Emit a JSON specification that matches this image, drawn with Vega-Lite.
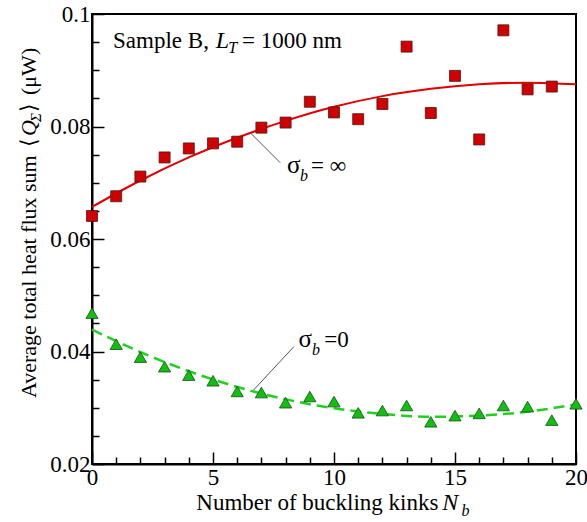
{
  "$schema": "https://vega.github.io/schema/vega-lite/v6.json",
  "width": 484,
  "height": 450,
  "autosize": "none",
  "padding": {"left": 92, "top": 14, "right": 11, "bottom": 58},
  "background": "white",
  "config": {"view": {"stroke": "black", "strokeWidth": 2}, "font": "'Liberation Serif', 'DejaVu Serif'"},
  "datasets": {
    "red": [
      {"n": 0, "q": 0.0641}, {"n": 1, "q": 0.0676}, {"n": 2, "q": 0.0711}, {"n": 3, "q": 0.0745},
      {"n": 4, "q": 0.0761}, {"n": 5, "q": 0.0770}, {"n": 6, "q": 0.0773}, {"n": 7, "q": 0.0798},
      {"n": 8, "q": 0.0807}, {"n": 9, "q": 0.0844}, {"n": 10, "q": 0.0825}, {"n": 11, "q": 0.0813},
      {"n": 12, "q": 0.0840}, {"n": 13, "q": 0.0942}, {"n": 14, "q": 0.0824}, {"n": 15, "q": 0.0890},
      {"n": 16, "q": 0.0777}, {"n": 17, "q": 0.0971}, {"n": 18, "q": 0.0866}, {"n": 19, "q": 0.0871}
    ],
    "green": [
      {"n": 0, "q": 0.0468}, {"n": 1, "q": 0.0413}, {"n": 2, "q": 0.0390}, {"n": 3, "q": 0.0373},
      {"n": 4, "q": 0.0358}, {"n": 5, "q": 0.0348}, {"n": 6, "q": 0.0329}, {"n": 7, "q": 0.0327},
      {"n": 8, "q": 0.0309}, {"n": 9, "q": 0.0320}, {"n": 10, "q": 0.0311}, {"n": 11, "q": 0.0291},
      {"n": 12, "q": 0.0295}, {"n": 13, "q": 0.0304}, {"n": 14, "q": 0.0275}, {"n": 15, "q": 0.0286},
      {"n": 16, "q": 0.0290}, {"n": 17, "q": 0.0304}, {"n": 18, "q": 0.0302}, {"n": 19, "q": 0.0278},
      {"n": 20, "q": 0.0307}
    ],
    "fitRed": [
      {"n": 0, "q": 0.0657}, {"n": 2, "q": 0.0704}, {"n": 4, "q": 0.0745}, {"n": 6, "q": 0.0780},
      {"n": 8, "q": 0.0810}, {"n": 10, "q": 0.0835}, {"n": 12, "q": 0.0854}, {"n": 14, "q": 0.0867},
      {"n": 16, "q": 0.0875}, {"n": 18, "q": 0.0878}, {"n": 20, "q": 0.0875}
    ],
    "fitGreen": [
      {"n": 0, "q": 0.0439}, {"n": 2, "q": 0.0399}, {"n": 4, "q": 0.0365}, {"n": 6, "q": 0.0337},
      {"n": 8, "q": 0.0315}, {"n": 10, "q": 0.0299}, {"n": 12, "q": 0.0289}, {"n": 14, "q": 0.0284},
      {"n": 16, "q": 0.0286}, {"n": 18, "q": 0.0293}, {"n": 20, "q": 0.0306}
    ],
    "leaders": [
      {"n": 6.54, "q": 0.0789, "n2": 7.78, "q2": 0.07356},
      {"n": 6.68, "q": 0.03316, "n2": 8.34, "q2": 0.04085}
    ],
    "roman": [
      {"n": 0.87, "q": 0.09404, "t": "Sample B,"},
      {"n": 6.2, "q": 0.09404, "t": "= 1000 nm"},
      {"n": 9.05, "q": 0.07179, "t": "= ∞"},
      {"n": 9.6, "q": 0.04075, "t": "=0"},
      {"n": 4.31, "q": 0.01182, "t": "Number of buckling kinks"}
    ],
    "italic": [
      {"n": 5.11, "q": 0.09404, "t": "L"},
      {"n": 14.47, "q": 0.01182, "t": "N"}
    ],
    "sub": [
      {"n": 5.63, "q": 0.09307, "t": "T"},
      {"n": 8.59, "q": 0.07037, "t": "b"},
      {"n": 9.09, "q": 0.03938, "t": "b"},
      {"n": 15.27, "q": 0.01076, "t": "b"}
    ],
    "sigma": [
      {"n": 8.06, "q": 0.07179, "t": "σ"},
      {"n": 8.53, "q": 0.04075, "t": "σ"}
    ],
    "yRoman": [
      {"n": -2.3, "q": 0.03173, "t": "Average total heat flux sum"},
      {"n": -2.3, "q": 0.07636, "t": "⟨"},
      {"n": -2.3, "q": 0.08258, "t": "⟩"},
      {"n": -2.3, "q": 0.0856, "t": "(μW)"}
    ],
    "yItalic": [
      {"n": -2.3, "q": 0.07831, "t": "Q"}
    ],
    "ySub": [
      {"n": -2.12, "q": 0.0808, "t": "Σ"}
    ]
  },
  "encoding": {
    "x": {
      "field": "n", "type": "quantitative",
      "scale": {"domain": [0, 20], "nice": false},
      "axis": {
        "title": null,
        "values": [0,1,2,3,4,5,6,7,8,9,10,11,12,13,14,15,16,17,18,19,20],
        "format": "d",
        "grid": false,
        "domainColor": "black", "domainWidth": 2,
        "tickColor": "black", "tickWidth": 1.5,
        "tickSize": {"condition": {"test": "datum.value % 5 === 0", "value": -12}, "value": -7},
        "labelExpr": "datum.value % 5 === 0 ? datum.label : ''",
        "labelFont": "'Liberation Serif', 'DejaVu Serif'", "labelFontSize": 23, "labelColor": "black",
        "labelPadding": 14, "labelFlush": false, "labelOverlap": false, "labelBound": false
      }
    },
    "y": {
      "field": "q", "type": "quantitative",
      "scale": {"domain": [0.02, 0.1], "nice": false, "zero": false},
      "axis": {
        "title": null,
        "values": [0.02,0.025,0.03,0.035,0.04,0.045,0.05,0.055,0.06,0.065,0.07,0.075,0.08,0.085,0.09,0.095,0.1],
        "format": ".2~f",
        "grid": false,
        "domainColor": "black", "domainWidth": 2,
        "tickColor": "black", "tickWidth": 1.5,
        "tickSize": {"condition": {"test": "round(datum.value * 1000) % 20 === 0", "value": -12}, "value": -7},
        "labelExpr": "round(datum.value * 1000) % 20 === 0 ? datum.label : ''",
        "labelFont": "'Liberation Serif', 'DejaVu Serif'", "labelFontSize": 23, "labelColor": "black",
        "labelPadding": 14, "labelFlush": false, "labelOverlap": false, "labelBound": false
      }
    }
  },
  "layer": [
    {"data": {"name": "fitRed"}, "mark": {"type": "line", "color": "#e00000", "strokeWidth": 2, "interpolate": "monotone"}},
    {"data": {"name": "fitGreen"}, "mark": {"type": "line", "color": "#22d022", "strokeWidth": 2.5, "strokeDash": [11, 6], "interpolate": "monotone"}},
    {"data": {"name": "leaders"}, "mark": {"type": "rule", "color": "#555555", "strokeWidth": 1},
     "encoding": {"x2": {"field": "n2"}, "y2": {"field": "q2"}}},
    {"data": {"name": "red"}, "mark": {"type": "point", "shape": "square", "filled": true, "size": 121, "fill": "#d00000", "stroke": "#4a1a1a", "strokeWidth": 0.8, "opacity": 1}},
    {"data": {"name": "green"}, "mark": {"type": "point", "shape": "triangle-up", "filled": true, "size": 150, "fill": "#10c010", "stroke": "#1a4a1a", "strokeWidth": 0.8, "opacity": 1}},
    {"data": {"name": "roman"}, "mark": {"type": "text", "font": "'Liberation Serif', 'DejaVu Serif'", "fontSize": 23, "align": "left", "baseline": "alphabetic", "color": "black"},
     "encoding": {"text": {"field": "t"}}},
    {"data": {"name": "italic"}, "mark": {"type": "text", "font": "'Liberation Serif', 'DejaVu Serif'", "fontSize": 24, "fontStyle": "italic", "align": "left", "baseline": "alphabetic", "color": "black"},
     "encoding": {"text": {"field": "t"}}},
    {"data": {"name": "sub"}, "mark": {"type": "text", "font": "'Liberation Serif', 'DejaVu Serif'", "fontSize": 16, "fontStyle": "italic", "align": "left", "baseline": "alphabetic", "color": "black"},
     "encoding": {"text": {"field": "t"}}},
    {"data": {"name": "sigma"}, "mark": {"type": "text", "font": "'Liberation Serif', 'DejaVu Serif'", "fontSize": 25, "align": "left", "baseline": "alphabetic", "color": "black"},
     "encoding": {"text": {"field": "t"}}},
    {"data": {"name": "yRoman"}, "mark": {"type": "text", "font": "'Liberation Serif', 'DejaVu Serif'", "fontSize": 22, "angle": 270, "align": "left", "baseline": "alphabetic", "color": "black"},
     "encoding": {"text": {"field": "t"}}},
    {"data": {"name": "yItalic"}, "mark": {"type": "text", "font": "'Liberation Serif', 'DejaVu Serif'", "fontSize": 22, "fontStyle": "italic", "angle": 270, "align": "left", "baseline": "alphabetic", "color": "black"},
     "encoding": {"text": {"field": "t"}}},
    {"data": {"name": "ySub"}, "mark": {"type": "text", "font": "'Liberation Serif', 'DejaVu Serif'", "fontSize": 15, "fontStyle": "italic", "angle": 270, "align": "left", "baseline": "alphabetic", "color": "black"},
     "encoding": {"text": {"field": "t"}}}
  ]
}
